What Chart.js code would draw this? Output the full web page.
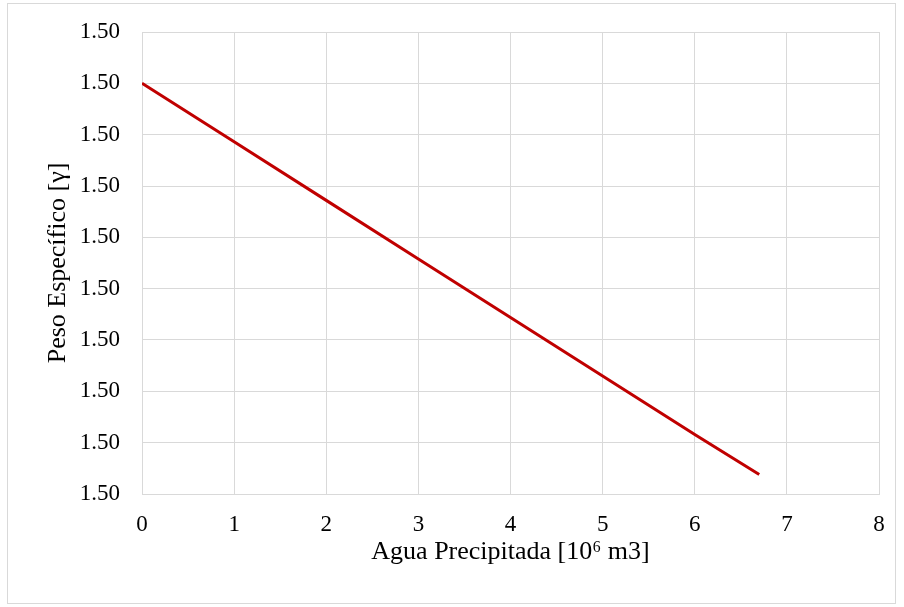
<!DOCTYPE html>
<html>
<head>
<meta charset="utf-8">
<script src="https://cdn.jsdelivr.net/npm/chart.js@4"></script>
<style>
  html, body { margin: 0; padding: 0; background: #fff; }
  #wrap {
    position: absolute; left: 7px; top: 3px; width: 889px; height: 601px;
    border: 1px solid #d9d9d9; box-sizing: border-box;
  }
  canvas { display: block; }
</style>
</head>
<body>
<div id="wrap"><canvas id="chart"></canvas></div>
<script>
// values
const aguaPrecipitada = [0, 1, 2, 3, 4, 5, 6, 6.7];
const pesoEspecifico = [1.50400, 1.50343, 1.50286, 1.50229, 1.50172, 1.50115, 1.50058, 1.50019];

const xTicks = [0, 1, 2, 3, 4, 5, 6, 7, 8];
const yMin = 1.5;
const yMax = 1.5045;
const yStep = 0.0005;

const font = "'Liberation Serif', 'Times New Roman', serif";
const gridColor = "#d9d9d9";

new Chart(document.getElementById("chart"), {
    type: "line",
    data: {
        datasets: [
            {
                data: aguaPrecipitada.map((x, i) => ({ x, y: pesoEspecifico[i] })),
                borderColor: "#c00000",
                borderWidth: 3,
                pointRadius: 0,
                tension: 0,
            },
        ],
    },
    options: {
        responsive: true,
        maintainAspectRatio: false,
        animation: false,
        layout: {
            padding: { left: 0, right: 16, top: 28, bottom: 0 },
        },
        plugins: {
            legend: { display: false },
            tooltip: { enabled: false },
        },
        scales: {
            x: {
                type: "linear",
                min: xTicks[0],
                max: xTicks[xTicks.length - 1],
                afterBuildTicks: (axis) => {
                    axis.ticks = xTicks.map((v) => ({ value: v }));
                },
                afterFit: (axis) => {
                    // fixed box so the plot area lines up with the reference
                    axis.height = 109;
                    axis.paddingLeft = 0;
                    axis.paddingRight = 0;
                },
                grid: { color: gridColor, drawTicks: false },
                border: { color: gridColor },
                ticks: {
                    color: "#000",
                    padding: 17,
                    font: { family: font, size: 23 },
                },
                title: {
                    display: true,
                    text: "Agua Precipitada [10⁶ m3]",
                    color: "#000",
                    padding: { top: 0, bottom: 35 },
                    font: { family: font, size: 26 },
                },
            },
            y: {
                min: yMin,
                max: yMax,
                afterBuildTicks: (axis) => {
                    const t = [];
                    for (let i = 0; i <= 9; i++) t.push({ value: yMin + i * yStep });
                    axis.ticks = t;
                },
                afterFit: (axis) => {
                    axis.width = 134;
                    axis.paddingTop = 0;
                    axis.paddingBottom = 0;
                },
                grid: { color: gridColor, drawTicks: false },
                border: { color: gridColor },
                ticks: {
                    color: "#000",
                    padding: 22,
                    font: { family: font, size: 23 },
                    callback: (v) => Number(v).toFixed(2),
                },
                title: {
                    display: true,
                    text: "Peso Específico [γ]",
                    color: "#000",
                    padding: { top: 35, bottom: 0 },
                    font: { family: font, size: 26 },
                },
            },
        },
    },
});
</script>
</body>
</html>
